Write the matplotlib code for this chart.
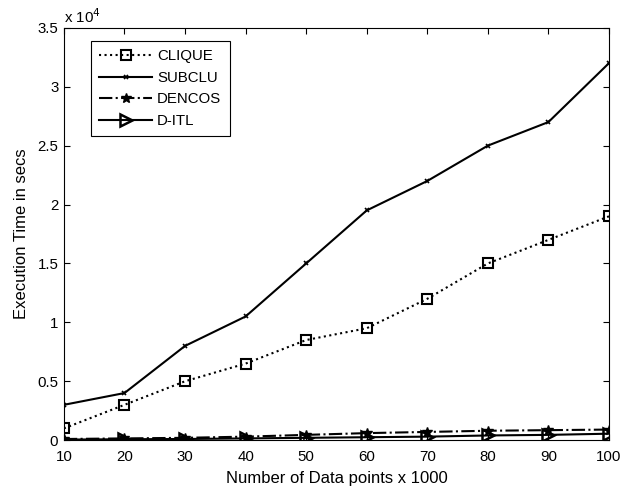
import matplotlib
matplotlib.use("Agg")
import matplotlib.pyplot as plt

plt.rcParams['font.family'] = ['Liberation Sans', 'DejaVu Sans']

points = [10, 20, 30, 40, 50, 60, 70, 80, 90, 100]
clique = [1000, 3000, 5000, 6500, 8500, 9500, 12000, 15000, 17000, 19000]
subclu = [3000, 4000, 8000, 10500, 15000, 19500, 22000, 25000, 27000, 32000]
dencos = [100, 150, 200, 300, 450, 600, 700, 800, 850, 900]
ditl = [50, 80, 100, 150, 200, 250, 300, 400, 450, 550]

fs = 10.8   # ticks / legend
lfs = 12    # axis labels

fig = plt.figure(figsize=(6.39, 4.88), dpi=100)
ax = fig.add_axes([0.100, 0.098, 0.853, 0.845])

ax.plot(points, clique, ':', color='black', lw=1.5, marker='s', ms=7.5,
        mfc='none', mew=1.5, label='CLIQUE')
ax.plot(points, subclu, '-', color='black', lw=1.5, marker='x', ms=3.5,
        mew=1.2, label='SUBCLU')
ax.plot(points, dencos, '-.', color='black', lw=1.5, marker='*', ms=7,
        label='DENCOS')
ax.plot(points, ditl, '-', color='black', lw=1.5, marker='>', ms=8,
        mfc='none', mew=1.8, label='D-ITL')

ax.set_xlim(10, 100)
ax.set_ylim(0, 35000)
ax.set_xticks(points)
ax.set_yticks([0, 5000, 10000, 15000, 20000, 25000, 30000, 35000])
ax.set_yticklabels(['0', '0.5', '1', '1.5', '2', '2.5', '3', '3.5'])
ax.tick_params(direction='in', labelsize=fs, top=True, right=True, length=4)
ax.tick_params(axis='x', pad=7)
ax.tick_params(axis='y', pad=4)
ax.text(0.0, 1.005, r'x 10$^4$', transform=ax.transAxes, fontsize=fs,
        ha='left', va='bottom')

ax.set_xlabel('Number of Data points x 1000', fontsize=lfs, labelpad=5)
ax.set_ylabel('Execution Time in secs', fontsize=lfs, labelpad=6)

leg = ax.legend(loc='upper left', bbox_to_anchor=(0.05, 0.968), fontsize=fs,
                fancybox=False, framealpha=1, edgecolor='black',
                handlelength=3.5, handletextpad=0.35, borderaxespad=0,
                borderpad=0.55, labelspacing=0.5)
leg.get_frame().set_linewidth(0.8)

fig.savefig('out.png', dpi=100)
